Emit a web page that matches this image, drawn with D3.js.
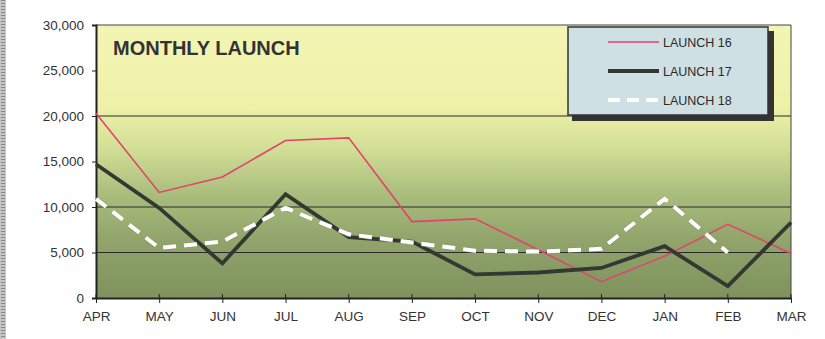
<!DOCTYPE html>
<html>
<head>
<meta charset="utf-8">
<script src="https://cdn.jsdelivr.net/npm/d3@7"></script>
<style>
  body { margin: 0; background: #fff; }
  svg { display: block; font-family: Arial, "Liberation Sans", sans-serif; }
</style>
</head>
<body>
<div id="chart"></div>
<script>

var months = ["APR", "MAY", "JUN", "JUL", "AUG", "SEP", "OCT", "NOV", "DEC", "JAN", "FEB", "MAR"];

var launch16 = [20300, 11600, 13300, 17300, 17600, 8400, 8700, 5300, 1800, 4600, 8100, 4900];
var launch17 = [14700, 9900, 3800, 11400, 6700, 6200, 2600, 2800, 3300, 5700, 1300, 8300];
var launch18 = [10900, 5500, 6200, 9900, 7000, 6100, 5200, 5100, 5400, 10900, 5000, null];

var yTicks = [0, 5000, 10000, 15000, 20000, 25000, 30000];
var gridValues = [5000, 10000, 20000];

var seriesNames = ["LAUNCH 16", "LAUNCH 17", "LAUNCH 18"];

var width = 825,
    height = 339;

var margin = {top: 25, left: 96, right: 34, bottom: 41};

var svg = d3.select("#chart").append("svg")
    .attr("width", width)
    .attr("height", height);

var x = d3.scalePoint()
    .domain(months)
    .range([margin.left, width - margin.right]);

var y = d3.scaleLinear()
    .domain([0, 30000])
    .range([height - margin.bottom, margin.top]);

// left hatched page edge
svg.append("rect")
    .attr("x", 0).attr("y", 0)
    .attr("width", 6).attr("height", height)
    .attr("fill", "#c4c4c4");
svg.append("line")
    .attr("x1", 3).attr("x2", 3)
    .attr("y1", 0).attr("y2", height)
    .attr("stroke", "#8a8a8a")
    .attr("stroke-width", 4)
    .attr("stroke-dasharray", "1 2");

// background gradient
var defs = svg.append("defs");
var grad = defs.append("linearGradient")
    .attr("id", "bg")
    .attr("x1", 0).attr("y1", 0).attr("x2", 0).attr("y2", 1);
grad.append("stop").attr("offset", "0%").attr("stop-color", "#f3f5b4");
grad.append("stop").attr("offset", "30%").attr("stop-color", "#eef2a8");
grad.append("stop").attr("offset", "45%").attr("stop-color", "#d2df96");
grad.append("stop").attr("offset", "62%").attr("stop-color", "#a9bd7c");
grad.append("stop").attr("offset", "80%").attr("stop-color", "#8fa36a");
grad.append("stop").attr("offset", "100%").attr("stop-color", "#7f925e");

var x0 = x.range()[0], x1 = x.range()[1];

svg.append("rect")
    .attr("x", x0)
    .attr("y", y(30000))
    .attr("width", x1 - x0)
    .attr("height", y(0) - y(30000))
    .attr("fill", "url(#bg)");

// gridlines
svg.selectAll(".grid")
    .data(gridValues)
    .enter().append("line")
    .attr("class", "grid")
    .attr("x1", x0).attr("x2", x1)
    .attr("y1", function (d) { return y(d); })
    .attr("y2", function (d) { return y(d); })
    .attr("stroke", "#2a2a2a")
    .attr("stroke-width", 1);

// top and right border
svg.append("path")
    .attr("d", "M" + x0 + "," + y(30000) + "H" + x1 + "V" + y(0))
    .attr("fill", "none")
    .attr("stroke", "#444")
    .attr("stroke-width", 1);

// axes
var yAxis = svg.append("g")
    .attr("transform", "translate(" + x0 + ",0)")
    .call(d3.axisLeft(y).tickValues(yTicks).tickSize(4).tickPadding(8)
        .tickFormat(d3.format(",")));

var xAxis = svg.append("g")
    .attr("transform", "translate(0," + y(0) + ")")
    .call(d3.axisBottom(x).tickSizeInner(5).tickSizeOuter(0).tickPadding(8));

// inside part of the x ticks
svg.selectAll(".xin")
    .data(months)
    .enter().append("line")
    .attr("x1", function (d) { return x(d); })
    .attr("x2", function (d) { return x(d); })
    .attr("y1", y(0) - 4).attr("y2", y(0))
    .attr("stroke", "#222");

[yAxis, xAxis].forEach(function (a) {
    a.select(".domain").attr("stroke", "#222").attr("stroke-width", 2);
    a.selectAll(".tick line").attr("stroke", "#222");
    a.selectAll("text")
        .attr("fill", "#333")
        .style("font-size", "13.5px")
        .style("font-family", "Arial, 'Liberation Sans', sans-serif");
});

// lines
var line = d3.line()
    .defined(function (d) { return d != null; })
    .x(function (d, i) { return x(months[i]); })
    .y(function (d) { return y(d); });

svg.append("path")
    .datum(launch16)
    .attr("d", line)
    .attr("fill", "none")
    .attr("stroke", "#e4416f")
    .attr("stroke-width", 1.6);

svg.append("path")
    .datum(launch17)
    .attr("d", line)
    .attr("fill", "none")
    .attr("stroke", "#333832")
    .attr("stroke-width", 3.8)
    .attr("stroke-linejoin", "miter");

svg.append("path")
    .datum(launch18)
    .attr("d", line)
    .attr("fill", "none")
    .attr("stroke", "#8a9174")
    .attr("stroke-width", 5.5)
    .attr("stroke-dasharray", "13 8")
    .attr("opacity", 0.5);

svg.append("path")
    .datum(launch18)
    .attr("d", line)
    .attr("fill", "none")
    .attr("stroke", "#ffffff")
    .attr("stroke-width", 4)
    .attr("stroke-dasharray", "13 8");

// title
svg.append("text")
    .attr("x", 113)
    .attr("y", 55)
    .attr("fill", "#333")
    .style("font-size", "20px")
    .style("font-weight", "bold")
    .text("MONTHLY LAUNCH");

// legend
var lg = svg.append("g").attr("transform", "translate(568,27)");
lg.append("rect")
    .attr("x", 4).attr("y", 4)
    .attr("width", 202).attr("height", 90)
    .attr("fill", "#333");
lg.append("rect")
    .attr("x", 0).attr("y", 0)
    .attr("width", 200).attr("height", 88)
    .attr("fill", "#cfe0e4")
    .attr("stroke", "#333")
    .attr("stroke-width", 1.5);

var legendStyles = [
    {stroke: "#e4416f", width: 1.6, dash: null},
    {stroke: "#333832", width: 3.8, dash: null},
    {stroke: "#ffffff", width: 4, dash: "12 7"}
];

var items = lg.selectAll(".item")
    .data(seriesNames)
    .enter().append("g")
    .attr("transform", function (d, i) { return "translate(0," + (15 + i * 29) + ")"; });

items.append("line")
    .attr("x1", 40).attr("x2", 91)
    .attr("y1", 0).attr("y2", 0)
    .attr("stroke", function (d, i) { return legendStyles[i].stroke; })
    .attr("stroke-width", function (d, i) { return legendStyles[i].width; })
    .attr("stroke-dasharray", function (d, i) { return legendStyles[i].dash; });

items.append("text")
    .attr("x", 95)
    .attr("y", 4.5)
    .attr("fill", "#2a2a2a")
    .style("font-size", "12.5px")
    .text(function (d) { return d; });

</script>
</body>
</html>
